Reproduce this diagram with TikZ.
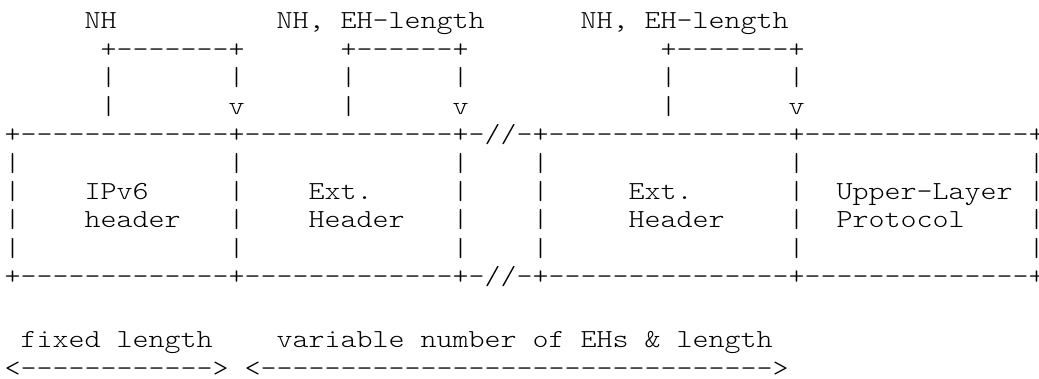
\documentclass[tikz,border=0pt]{standalone}
\usepackage{fontspec}
\newfontfamily\asciiface{lmmonolt10-regular.otf}[FakeStretch=1.1722]
\newcommand\asciifont{\asciiface\fontsize{26pt}{28.5pt}\selectfont}
\tikzset{ascii/.style={font=\asciifont, anchor=base west, inner sep=0pt, outer sep=0pt, text=black}}
% #1 name, #2 column, #3 baseline (pt from top), #4 text
\newcommand\ascy[4]{\node[ascii] (#1) at ({4.7pt+16pt*#2}, {-#3 pt}) {#4};}
\newcommand\asc[4]{\ascy{#1}{#2}{\fpeval{28.7+28.46*#3}}{#4}}
\newcommand\ascl[4]{\ascy{#1}{#2}{\fpeval{34.7+28.46*#3}}{#4}}
\begin{document}
\begin{tikzpicture}
\useasboundingbox (0,0) rectangle (1039pt,-378pt);
% row 0 labels
\asc{nh1}{5}{0}{NH}
\asc{nh2}{17}{0}{NH, EH-length}
\asc{nh3}{36}{0}{NH, EH-length}
% row 1 brackets
\asc{br1}{6}{1}{+-------+}
\asc{br2}{21}{1}{+------+}
\asc{br3}{41}{1}{+-------+}
% rows 2,3 pointers
\foreach \c in {6,14,21,28,41,49} {\asc{pa-\c}{\c}{2}{|}}
\foreach \c in {6,21,41} {\asc{pb-\c}{\c}{3}{|}}
\foreach \c in {14,28,49} {\asc{pv-\c}{\c}{3}{v}}
% box
\asc{top}{0}{4}{+-------------+-------------+-//-+---------------+--------------+}
\foreach \r in {5,6,7,8} {\foreach \c in {0,14,28,33,49,64} {\asc{bar-\r-\c}{\c}{\r}{|}}}
\asc{ipv6a}{5}{6}{IPv6}
\asc{ipv6b}{5}{7}{header}
\asc{ext1a}{19}{6}{Ext.}
\asc{ext1b}{19}{7}{Header}
\asc{ext2a}{39}{6}{Ext.}
\asc{ext2b}{39}{7}{Header}
\asc{ulpa}{52}{6}{Upper-Layer}
\asc{ulpb}{52}{7}{Protocol}
\asc{bot}{0}{9}{+-------------+-------------+-//-+---------------+--------------+}
% bottom legend
\ascl{fixed}{1}{11}{fixed length}
\ascl{var}{17}{11}{variable number of EHs \& length}
\ascl{arr1}{0}{12}{<------------>}
\ascl{arr2}{15}{12}{<-------------------------------->}
\end{tikzpicture}
\end{document}
